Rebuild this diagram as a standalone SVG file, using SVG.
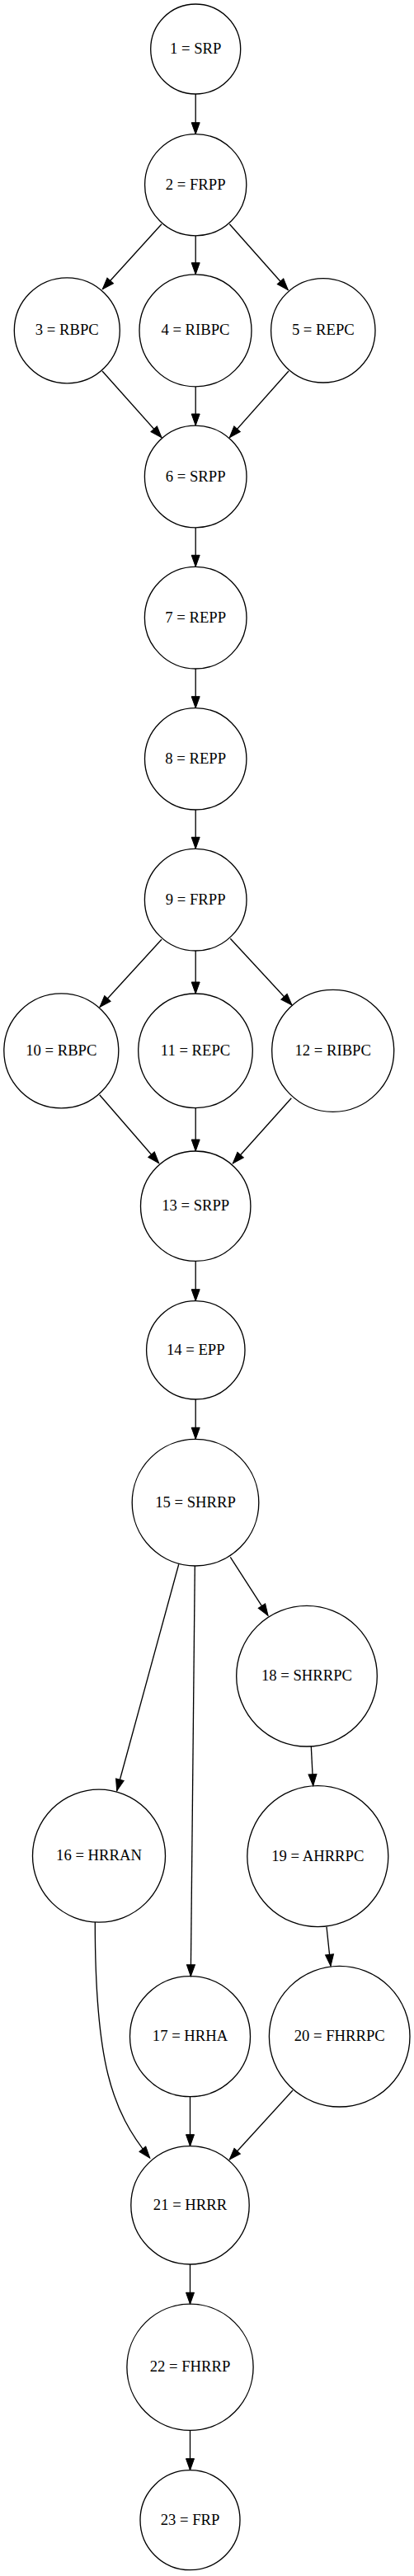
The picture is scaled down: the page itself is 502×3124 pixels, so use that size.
<svg xmlns="http://www.w3.org/2000/svg" width="502" height="3124" viewBox="0 0 502 3124">
<style>
.node circle{fill:none;stroke:#000;stroke-width:1.33}
.node text{font-family:"Liberation Serif","Times New Roman",serif;font-size:18.67px;text-anchor:middle;fill:#000}
.edge path{fill:none;stroke:#000;stroke-width:1.33}
</style>
<defs>
<marker id="arr" markerUnits="userSpaceOnUse" markerWidth="14" markerHeight="10" viewBox="0 0 14 10" refX="14" refY="5" orient="auto" overflow="visible">
<path d="M0,0 L14,5 L0,10 Z" fill="#000" stroke="#000" stroke-width="1"/>
</marker>
</defs>
<rect width="502" height="3124" fill="#fff"/>
<g id="edges" class="edge">
<path marker-end="url(#arr)" d="M237.2,114 L237.2,162.7"/>
<path marker-end="url(#arr)" d="M196,271.7 L124.3,350.7"/>
<path marker-end="url(#arr)" d="M237.2,285.7 L237.2,332.7"/>
<path marker-end="url(#arr)" d="M278.3,271.7 L349.3,351.7"/>
<path marker-end="url(#arr)" d="M124,450 L196,530.7"/>
<path marker-end="url(#arr)" d="M237.2,469 L237.2,516"/>
<path marker-end="url(#arr)" d="M350,450 L278.3,530.7"/>
<path marker-end="url(#arr)" d="M237.2,640 L237.2,687.3"/>
<path marker-end="url(#arr)" d="M237.2,811 L237.2,858.7"/>
<path marker-end="url(#arr)" d="M237.2,982 L237.2,1029.3"/>
<path marker-end="url(#arr)" d="M196,1139.3 L121,1221.3"/>
<path marker-end="url(#arr)" d="M237.2,1153 L237.2,1205"/>
<path marker-end="url(#arr)" d="M279.3,1138.3 L354,1219"/>
<path marker-end="url(#arr)" d="M120.7,1327.7 L192.7,1410.7"/>
<path marker-end="url(#arr)" d="M237.2,1343.7 L237.2,1396"/>
<path marker-end="url(#arr)" d="M353.3,1331.7 L282.3,1411"/>
<path marker-end="url(#arr)" d="M237.2,1529.3 L237.2,1577.7"/>
<path marker-end="url(#arr)" d="M237.2,1697 L237.2,1745.3"/>
<path marker-end="url(#arr)" d="M216.7,1897.3 L141.7,2171.7"/>
<path marker-end="url(#arr)" d="M236.3,1899 L231.3,2396.7"/>
<path marker-end="url(#arr)" d="M279.3,1888.3 L325,1959.3"/>
<path marker-end="url(#arr)" d="M377.3,2118 L379.7,2165.7"/>
<path marker-end="url(#arr)" d="M396,2336.7 L401,2384.3"/>
<path marker-end="url(#arr)" d="M115.3,2331 C115.3,2500 135,2560 181.7,2617"/>
<path marker-end="url(#arr)" d="M230.5,2542.7 L230.5,2602.7"/>
<path marker-end="url(#arr)" d="M355,2535 L278.3,2619"/>
<path marker-end="url(#arr)" d="M230.5,2746 L230.5,2794.3"/>
<path marker-end="url(#arr)" d="M230.5,2947.3 L230.5,2995.7"/>
</g>
<g id="n1" class="node"><circle cx="237.2" cy="59.5" r="54.5"/><text x="237.2" y="65.1">1 = SRP</text></g>
<g id="n2" class="node"><circle cx="237.2" cy="224.2" r="61.6"/><text x="237.2" y="229.8">2 = FRPP</text></g>
<g id="n3" class="node"><circle cx="81.3" cy="400.8" r="64"/><text x="81.3" y="406.4">3 = RBPC</text></g>
<g id="n4" class="node"><circle cx="237" cy="400.8" r="68"/><text x="237" y="406.4">4 = RIBPC</text></g>
<g id="n5" class="node"><circle cx="391.8" cy="400.8" r="63.2"/><text x="391.8" y="406.4">5 = REPC</text></g>
<g id="n6" class="node"><circle cx="237.2" cy="578" r="61.8"/><text x="237.2" y="583.6">6 = SRPP</text></g>
<g id="n7" class="node"><circle cx="237.2" cy="749.2" r="61.8"/><text x="237.2" y="754.8">7 = REPP</text></g>
<g id="n8" class="node"><circle cx="237.2" cy="920.3" r="61.7"/><text x="237.2" y="925.9">8 = REPP</text></g>
<g id="n9" class="node"><circle cx="237.2" cy="1091.2" r="61.8"/><text x="237.2" y="1096.8">9 = FRPP</text></g>
<g id="n10" class="node"><circle cx="74.3" cy="1274.3" r="69.5"/><text x="74.3" y="1279.9">10 = RBPC</text></g>
<g id="n11" class="node"><circle cx="237" cy="1274.3" r="69.3"/><text x="237" y="1279.9">11 = REPC</text></g>
<g id="n12" class="node"><circle cx="403.7" cy="1274.3" r="74"/><text x="403.7" y="1279.9">12 = RIBPC</text></g>
<g id="n13" class="node"><circle cx="237.2" cy="1462.7" r="66.7"/><text x="237.2" y="1468.3">13 = SRPP</text></g>
<g id="n14" class="node"><circle cx="237.3" cy="1637.3" r="59.7"/><text x="237.3" y="1642.9">14 = EPP</text></g>
<g id="n15" class="node"><circle cx="237" cy="1822.2" r="76.8"/><text x="237" y="1827.8">15 = SHRRP</text></g>
<g id="n16" class="node"><circle cx="120" cy="2250.7" r="80.5"/><text x="120" y="2256.3">16 = HRRAN</text></g>
<g id="n17" class="node"><circle cx="230.5" cy="2469.7" r="73"/><text x="230.5" y="2475.3">17 = HRHA</text></g>
<g id="n18" class="node"><circle cx="372" cy="2032.7" r="85.3"/><text x="372" y="2038.3">18 = SHRRPC</text></g>
<g id="n19" class="node"><circle cx="385.3" cy="2251.2" r="85.5"/><text x="385.3" y="2256.8">19 = AHRRPC</text></g>
<g id="n20" class="node"><circle cx="411.7" cy="2469.7" r="85.3"/><text x="411.7" y="2475.3">20 = FHRRPC</text></g>
<g id="n21" class="node"><circle cx="230.5" cy="2674.3" r="71.7"/><text x="230.5" y="2679.9">21 = HRRR</text></g>
<g id="n22" class="node"><circle cx="230.5" cy="2870.8" r="76.6"/><text x="230.5" y="2876.4">22 = FHRRP</text></g>
<g id="n23" class="node"><circle cx="230.5" cy="3056.2" r="60.5"/><text x="230.5" y="3061.8">23 = FRP</text></g>
</svg>
